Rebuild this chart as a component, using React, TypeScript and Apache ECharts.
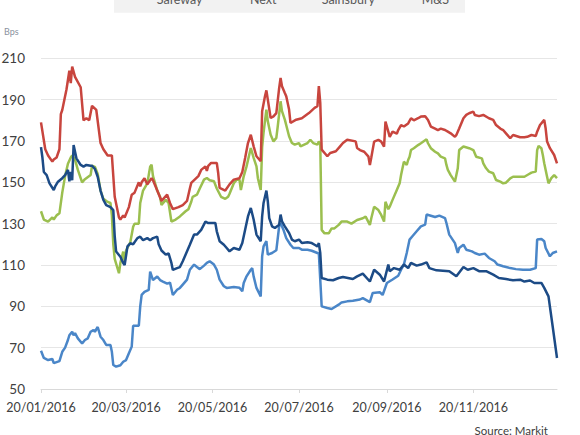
import React, { useEffect, useRef } from "react";
import * as echarts from "echarts";

// Days since 20/01/2016 paired with CDS spread in bps
const SERIES_NAMES = ["Safeway", "Next", "Sainsbury", "M&S"];
const SERIES_COLORS = ["#1c4b86", "#4a86c8", "#c8453e", "#9bbf4f"];
const TICK_LABELS = ["20/01/2016", "20/03/2016", "20/05/2016", "20/07/2016", "20/09/2016", "20/11/2016"];
const X_START = "20/01/2016";
const X_END = "18/01/2017";

const safeway: [number, number][] = [
  [0, 167], [1, 162], [2, 155], [4, 153.5], [6, 149.5], [9, 146.3], [10, 148], [12, 150.3], [15, 152], [17, 153.5],
  [19, 156], [20, 150.5], [21, 155], [22, 151], [23, 168], [25, 161.6], [28, 158.4], [30, 157.6], [32, 158.4], [35, 158],
  [36, 158], [38, 156.5], [40, 152.7], [42, 146], [44, 141.5], [46, 139], [49, 138], [51, 136.5], [52, 124], [53, 116.5],
  [56, 114], [58, 111], [59, 110], [61, 119], [63, 120.5], [65, 120], [68, 123], [70, 123.7], [72, 122], [75, 123],
  [77, 122], [79, 123], [82, 123.7], [83, 120], [85, 117], [88, 115], [90, 115.6], [92, 111], [93, 107.6], [96, 108.5],
  [98, 109], [100, 111.8], [105, 119.8], [108, 124.7], [110, 124.7], [113, 127], [116, 131], [118, 130.3], [123, 130.3], [124, 126.3],
  [126, 121.5], [129, 119.8], [131, 118.2], [133, 116.6], [136, 118.2], [140, 117.4], [142, 120.6], [144, 127], [146, 133.5], [148, 137.6],
  [150, 132], [152, 124.7], [155, 121.5], [156, 133.5], [157, 140], [159, 146], [160, 140.8], [161, 132.7], [163, 128.7], [165, 127.9],
  [168, 129.5], [169, 134.4], [170, 131.1], [172, 128.7], [175, 125.5], [177, 122.3], [179, 121.5], [182, 122.3], [184, 120.6], [188, 121],
  [191, 120.6], [193, 119.8], [195, 119], [196, 120.6], [197, 115.8], [198, 103.7], [202, 102.9], [206, 102.6], [210, 103.7], [213, 104.2],
  [220, 103.2], [223, 104.5], [227, 105.8], [232, 102], [235, 107.7], [239, 105.3], [242, 102], [245, 110.2], [246, 107], [249, 108.5],
  [253, 107.7], [256, 110.2], [259, 108.5], [261, 111], [265, 109.7], [268, 110.2], [272, 111.3], [274, 108.5], [279, 107.4], [288, 107],
  [293, 104.5], [298, 109], [301, 107.7], [305, 108.5], [309, 107], [314, 107], [319, 105.3], [323, 103.7], [328, 103.2], [333, 102.6],
  [338, 102.9], [341, 102], [345, 102.5], [348, 101.3], [353, 101.3], [355, 98.9], [358, 94.8], [361, 80], [364, 65],
];

const next: [number, number][] = [
  [0, 68.5], [2, 65], [5, 64], [8, 64.5], [9, 62.5], [11, 63], [13, 63.5], [15, 68], [17, 70], [19, 73.7],
  [20, 76], [22, 77.7], [23, 76], [24, 77], [26, 74.5], [29, 72], [31, 73.7], [33, 74.5], [35, 77.7], [37, 78.5],
  [38, 77.7], [40, 80], [42, 75.3], [44, 73.7], [46, 71.3], [49, 71.3], [50, 68], [51, 61.6], [53, 60.8], [56, 61.5],
  [58, 63.2], [60, 64], [62, 67.3], [64, 70.5], [65, 80.6], [69, 80.6], [70, 90], [71, 95.5], [73, 97], [76, 98],
  [77, 106.8], [79, 102.7], [82, 104.4], [84, 102.7], [86, 102], [89, 101], [91, 101.5], [93, 95.5], [96, 98], [98, 98.9],
  [100, 100.5], [103, 102.9], [105, 107.7], [108, 110.2], [110, 109], [112, 108], [115, 109.7], [117, 111], [119, 111.8], [122, 110.2],
  [124, 107.7], [126, 102.9], [129, 99.7], [131, 98.9], [136, 99.4], [140, 99], [142, 97.3], [143, 101.3], [145, 104.5], [148, 107.7],
  [149, 108.5], [150, 104.5], [152, 98.9], [155, 94.8], [156, 114.2], [157, 119], [159, 121.5], [160, 115], [163, 115.8], [166, 117.1],
  [168, 128.7], [169, 130.3], [171, 127.1], [173, 123], [176, 119.8], [178, 118.2], [182, 118.2], [184, 117.4], [188, 117.4], [191, 116.9],
  [195, 115.8], [196, 115.5], [197, 102.9], [198, 90], [202, 89.2], [205, 88.7], [210, 90.8], [212, 91.9], [216, 92.4], [220, 92.7],
  [225, 93.3], [227, 94], [232, 92], [234, 96.5], [239, 96.8], [241, 95.5], [244, 101.3], [248, 103], [252, 104.8], [254, 107.7],
  [256, 110.2], [258, 115.8], [260, 122.3], [262, 123.9], [265, 126.3], [268, 128.7], [271, 129.5], [272, 134.4], [278, 133.2], [281, 133.9],
  [285, 132.7], [286, 130.3], [288, 124.7], [292, 120.6], [294, 115.8], [295, 118.2], [298, 119.8], [300, 117.4], [304, 116.6], [306, 115.8],
  [309, 115], [313, 115.5], [316, 113.4], [320, 111.8], [322, 110.2], [326, 109.4], [331, 108.5], [335, 108], [340, 107.7], [345, 107.7],
  [349, 108.5], [350, 122.3], [353, 122.6], [355, 121.5], [356, 118.2], [359, 114.2], [361, 115.8], [364, 116.6],
];

const sainsbury: [number, number][] = [
  [0, 179], [3, 166], [5, 163], [8, 160], [9, 161], [11, 162], [13, 166], [14, 183], [15, 185], [18, 195],
  [20, 204], [21, 198], [22, 206], [24, 201], [28, 196], [30, 180], [32, 181], [34, 180], [36, 187], [39, 185],
  [42, 169], [44, 166], [47, 163], [50, 163], [52, 143], [55, 133], [56, 132], [58, 134], [59, 133], [62, 138],
  [64, 144], [66, 145], [69, 150], [70, 148], [71, 150], [73, 152], [75, 149], [78, 152], [79, 151], [82, 146],
  [85, 141], [89, 144], [91, 140], [93, 137], [97, 138], [100, 139], [103, 141], [105, 147], [106, 149.7], [111, 153],
  [113, 156], [116, 157.7], [117, 155.5], [118, 158], [120, 159.4], [124, 159.4], [125, 154.5], [126, 147.3], [130, 146], [133, 149],
  [136, 151.3], [140, 152], [142, 155], [144, 161.8], [146, 169], [148, 173], [150, 167.4], [152, 162.6], [155, 160.2], [156, 184.4],
  [158, 191.6], [159, 194.5], [160, 190], [162, 181.1], [164, 181.9], [166, 183.5], [168, 195.6], [169, 200.5], [170, 196.5], [172, 193.2],
  [173, 191.6], [175, 185.2], [176, 178.7], [180, 180.3], [184, 181], [189, 183.5], [193, 186], [195, 186.8], [196, 196.5], [197, 188.4],
  [198, 165.8], [202, 162.6], [204, 164.2], [208, 165], [211, 167.4], [213, 169], [216, 170.6], [222, 169.8], [223, 166.6], [225, 165.6],
  [228, 164.8], [231, 162.4], [232, 158.4], [233, 162], [235, 169.7], [238, 170.5], [240, 169.7], [242, 167.3], [243, 179.4], [245, 174.5],
  [246, 172], [248, 174.5], [251, 173.5], [252, 175.3], [254, 177.7], [256, 177], [259, 178.5], [261, 181], [263, 180], [266, 181],
  [268, 181.8], [271, 182], [273, 180.2], [275, 177], [278, 176], [280, 175.3], [282, 176], [285, 175.3], [287, 174.5], [289, 173.7],
  [292, 172], [293, 172.9], [295, 176], [298, 181], [300, 182.6], [302, 183.4], [305, 184.2], [306, 182.6], [309, 182], [312, 182.6],
  [316, 181], [319, 180.2], [321, 177.7], [324, 176], [326, 175.3], [328, 173.7], [331, 171.3], [333, 172.9], [338, 171.8], [341, 171.8],
  [343, 172], [346, 172.9], [349, 172.4], [350, 174.5], [352, 177.7], [355, 180.2], [356, 176], [357, 169.7], [359, 166.5], [362, 163.2],
  [364, 159.2],
];

const ms: [number, number][] = [
  [0, 136], [2, 132], [5, 131], [8, 133], [9, 132], [11, 134], [13, 135], [15, 145], [17, 153], [19, 159],
  [21, 162], [22, 163], [24, 161], [26, 156], [29, 150], [31, 151.5], [35, 153.5], [36, 158], [38, 157.5], [40, 154],
  [42, 146], [44, 142], [47, 140.5], [49, 140], [50, 134], [51, 120], [52, 113], [55, 106], [56, 111], [58, 116.5],
  [59, 111.5], [60, 117], [63, 121], [65, 128.5], [66, 130], [69, 130], [70, 140], [72, 146], [75, 149.5], [77, 157.5],
  [78, 158.5], [79, 153], [82, 146], [84, 143], [85, 139], [88, 141.5], [90, 140], [92, 131], [95, 132], [98, 133.5],
  [102, 136], [104, 137], [106, 140.6], [107, 143], [110, 144], [112, 147], [115, 151.3], [117, 152.1], [119, 151], [122, 150.5],
  [124, 147], [127, 143], [130, 142], [132, 143], [133, 144.5], [136, 149.5], [138, 151.3], [140, 151.3], [141, 146.3], [143, 152.9],
  [145, 157.7], [148, 166.6], [150, 161.8], [152, 157.7], [153, 152], [155, 146.3], [156, 167], [157, 174], [159, 185.2], [160, 179.5],
  [162, 173], [164, 169.8], [166, 171.5], [167, 177], [169, 189.2], [170, 184.4], [172, 180.3], [175, 172.3], [177, 169], [179, 168.2],
  [182, 169], [183, 167.4], [188, 169], [190, 170.6], [192, 169], [195, 168.2], [196, 169.8], [197, 168.5], [198, 127], [200, 125.3],
  [203, 125.3], [205, 127.7], [207, 127.7], [210, 129.4], [212, 131], [216, 131], [219, 130], [223, 131.8], [227, 132.6], [229, 133.4],
  [232, 129.4], [233, 132.6], [235, 138.2], [238, 136.6], [240, 134.2], [242, 131], [243, 140.6], [245, 137], [246, 138.2], [248, 141.5],
  [251, 146.3], [253, 149.5], [254, 153.5], [255, 156.8], [256, 160], [258, 158.4], [259, 160.8], [260, 162.4], [261, 165.6], [263, 166.5],
  [266, 168], [268, 168.9], [272, 170.8], [273, 168.9], [275, 166.5], [278, 164.8], [280, 164], [282, 162.4], [285, 161.6], [286, 158.4],
  [287, 156], [289, 153.5], [292, 150.3], [294, 156.8], [295, 165.6], [298, 167.3], [302, 166.5], [305, 165.6], [307, 162.4], [311, 161.6],
  [312, 159.2], [314, 156.8], [316, 155.2], [319, 154.4], [321, 151.1], [324, 150.3], [326, 149.5], [328, 149.8], [331, 151.9], [333, 152.7],
  [341, 152.7], [344, 153.9], [346, 154.7], [349, 155.2], [350, 165.6], [351, 167.6], [353, 166.5], [354, 163.2], [355, 159.2], [357, 152.7],
  [358, 149.5], [360, 152], [362, 153.5], [364, 152],
];

const SERIES_DATA = [safeway, next, sainsbury, ms];

const parseDate = (s: string) => {
  const [d, m, y] = s.split("/").map(Number);
  return new Date(y, m - 1, d);
};
const START = parseDate(X_START);
const DAY_MS = 86400000;
const dateToDay = (s: string) => Math.round((parseDate(s).getTime() - START.getTime()) / DAY_MS);
const pad = (n: number) => (n < 10 ? "0" + n : "" + n);
const dayToLabel = (day: number) => {
  const d = new Date(START.getFullYear(), START.getMonth(), START.getDate() + Math.round(day));
  return pad(d.getDate()) + "/" + pad(d.getMonth() + 1) + "/" + d.getFullYear();
};

export default function App() {
  const ref = useRef<HTMLDivElement>(null);
  useEffect(() => {
    document.body.style.margin = "0";
    if (!ref.current) return;
    const chart = echarts.init(ref.current, null, { renderer: "svg" });
    const tickDays = TICK_LABELS.map(dateToDay);
    const font = "Lato, 'Open Sans', sans-serif";
    const legendX = [156.7, 250, 321.7, 421.7];
    chart.setOption({
      animation: false,
      backgroundColor: "#ffffff",
      textStyle: { fontFamily: font },
      grid: { left: 41, right: 23, top: 58.3, bottom: 46, outerBoundsMode: "none", containLabel: false },
      xAxis: {
        type: "value",
        min: 0,
        max: dateToDay(X_END),
        axisLine: { show: true, lineStyle: { color: "#d9d9d9", width: 1 } },
        axisTick: { show: true, customValues: tickDays, length: 4, lineStyle: { color: "#d9d9d9" } },
        axisLabel: {
          customValues: tickDays,
          formatter: (v: number) => dayToLabel(v),
          color: "#404040",
          fontSize: 12.5,
          fontFamily: font,
          margin: 12,
          hideOverlap: false,
        },
        splitLine: { show: false },
      },
      yAxis: {
        type: "value",
        min: 50,
        max: 210,
        interval: 20,
        axisLine: { show: false },
        axisTick: { show: false },
        axisLabel: { color: "#404040", fontSize: 13.5, fontFamily: font, margin: 16 },
        splitLine: { show: true, lineStyle: { color: "#e6e6e6", width: 1 } },
      },
      series: SERIES_NAMES.map((name, i) => ({
        name,
        type: "line",
        data: SERIES_DATA[i],
        showSymbol: false,
        symbol: "none",
        smooth: false,
        lineStyle: { color: SERIES_COLORS[i], width: 2.5 },
        itemStyle: { color: SERIES_COLORS[i] },
        z: 10 - i,
      })),
      graphic: [
        { type: "rect", shape: { x: 114, y: -12, width: 351, height: 24.7 }, style: { fill: "#f2f2f2" }, silent: true },
        ...SERIES_NAMES.map((name, i) => ({
          type: "text",
          x: legendX[i],
          y: -1,
          style: { text: name, fill: "#595959", fontSize: 12.5, fontFamily: font, verticalAlign: "middle", align: "left" },
          silent: true,
        })),
        {
          type: "text",
          x: 4,
          y: 31.5,
          style: { text: "Bps", fill: "#8a939e", fontSize: 9, fontFamily: font, verticalAlign: "middle" },
        },
        {
          type: "text",
          x: 548,
          y: 430,
          style: { text: "Source: Markit", fill: "#404040", fontSize: 11.5, fontFamily: font, align: "right", verticalAlign: "middle" },
        },
      ],
    });
    return () => chart.dispose();
  }, []);
  return <div ref={ref} style={{ width: 580, height: 435 }} />;
}
